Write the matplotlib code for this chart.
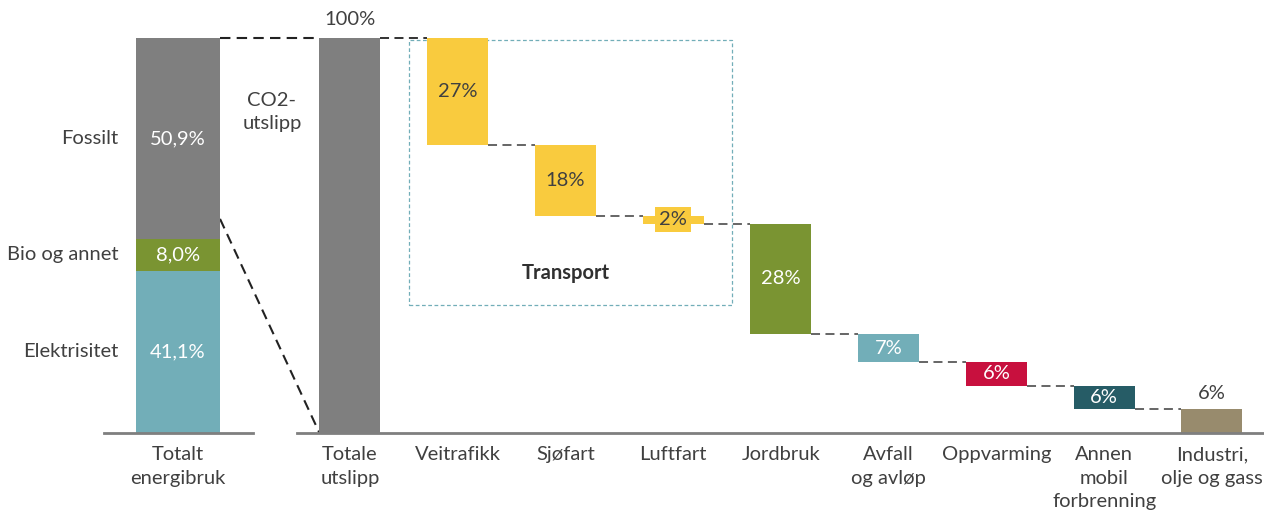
import matplotlib
matplotlib.use("Agg")
import matplotlib.pyplot as plt
from matplotlib.patches import Rectangle

plt.rcParams['font.family'] = ['Lato', 'DejaVu Sans']

# energy use split (left stacked bar), bottom to top
energy_labels = ['Elektrisitet', 'Bio og annet', 'Fossilt']
energy_values = [41.1, 8.0, 50.9]
energy_colors = ['#72aeb8', '#7a9432', '#7f7f7f']
energy_text = ['41,1%', '8,0%', '50,9%']

# emissions waterfall
cats = ['Totale\nutslipp', 'Veitrafikk', 'Sjøfart', 'Luftfart', 'Jordbruk',
        'Avfall\nog avløp', 'Oppvarming', 'Annen\nmobil\nforbrenning',
        'Industri,\nolje og gass']
shares = [100, 27, 18, 2, 28, 7, 6, 6, 6]
colors = ['#7f7f7f', '#f9cb3e', '#f9cb3e', '#f9cb3e', '#7a9432',
          '#72aeb8', '#c8103e', '#265c66', '#988b6d']
txt_colors = ['#404040', '#404040', '#404040', '#404040', 'white',
              'white', 'white', 'white', '#404040']

dark = '#404040'
fs = 14.5

fig = plt.figure(figsize=(12.64, 5.15), dpi=100)
ax = fig.add_axes([0, 0, 1, 1])
ax.set_xlim(-3.248, 8.483)
ax.set_ylim(-20.76, 109.62)
ax.axis('off')

# left bar
lx, lw = -1.596, 0.78
bottom = 0
for lab, v, c, t in zip(energy_labels, energy_values, energy_colors, energy_text):
    ax.bar(lx, v, lw, bottom=bottom, color=c, zorder=2)
    ax.text(lx, bottom + v / 2, t, ha='center', va='center', color='white', fontsize=fs)
    ax.text(lx - lw / 2 - 0.16, bottom + v / 2, lab, ha='right', va='center',
            color=dark, fontsize=fs)
    bottom += v
ax.text(lx, -3.4, 'Totalt\nenergibruk', ha='center', va='top', color=dark,
        fontsize=fs, linespacing=1.45)

# baselines
ax.plot([lx - 0.69, lx + 0.7], [0, 0], color='#7f7f7f', lw=2, zorder=3)
ax.plot([-0.49, 8.483], [0, 0], color='#7f7f7f', lw=2, zorder=3)

# waterfall
bw = 0.566
tops = []
level = shares[0]
for i, (s, c) in enumerate(zip(shares, colors)):
    if i == 0:
        b, top = 0, s
    else:
        top = level
        level -= s
        b = level
    tops.append((b, top))
    ax.bar(i, top - b, bw, bottom=b, color=c, zorder=2)

for i in range(len(shares) - 1):
    y = tops[i][0] if i > 0 else tops[i][1]
    col = '#222222' if i == 0 else '#595959'
    ax.plot([i + bw / 2, i + 1 - bw / 2], [y, y], color=col, lw=1.3,
            dashes=(5, 3), zorder=1)

# value labels
for i, (s, (b, top)) in enumerate(zip(shares, tops)):
    if i == 0:
        ax.text(i, top + 4.6, f'{s}%', ha='center', va='center', color=dark, fontsize=fs)
    elif i == len(shares) - 1:
        ax.text(i, top + 3.9, f'{s}%', ha='center', va='center', color=dark, fontsize=fs)
    elif s < 4:
        ax.text(i, (b + top) / 2, f'{s}%', ha='center', va='center', color=dark, fontsize=fs,
                bbox=dict(facecolor=colors[i], edgecolor='none', pad=3), zorder=4)
    else:
        ax.text(i, (b + top) / 2, f'{s}%', ha='center', va='center',
                color=txt_colors[i], fontsize=fs, zorder=4)

for i, c in enumerate(cats):
    ax.text(i, -3.4, c, ha='center', va='top', color=dark, fontsize=fs, linespacing=1.45)

# connectors from energy bar to total emissions
ax.plot([lx + lw / 2, -bw / 2], [100, 100], color='#222222', lw=1.5, dashes=(5, 3), zorder=1)
ax.plot([lx + lw / 2, -bw / 2], [54.2, 0], color='#222222', lw=1.5, dashes=(5, 3), zorder=1)

ax.text(-0.724, 81.2, 'CO2-\nutslipp', ha='center', va='center', color=dark,
        fontsize=fs, linespacing=1.45)

# transport box
ax.add_patch(Rectangle((0.548, 32.4), 3.545 - 0.548, 99.5 - 32.4, fill=False,
                       edgecolor='#72aeb8', lw=0.9, ls=(0, (3, 2)), zorder=1))
ax.text(2, 40.5, 'Transport', ha='center', va='center', color='#303030',
        fontsize=fs, fontweight='bold')

fig.savefig('out.png', dpi=100)
